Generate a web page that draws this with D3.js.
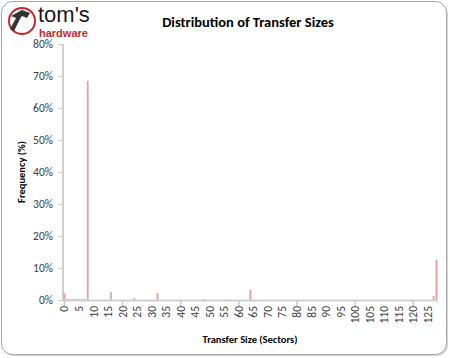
<!DOCTYPE html>
<html lang="en">
<head>
<meta charset="UTF-8">
<title>Distribution of Transfer Sizes</title>
<script src="https://d3js.org/d3.v7.min.js"></script>
<style>
    body { margin: 0; background: #fff; }
    text { font-family: Calibri, Carlito, "Open Sans", "Liberation Sans", sans-serif; }
</style>
</head>
<body>
<script>

// data (transfer size in sectors -> frequency %)
const sizes = d3.range(0, 129);
const sizeValues = [0, 1, 2, 3, 4, 5, 6, 7, 8, 16, 24, 32, 48, 56, 64, 127, 128];
const freqValues = [2.1, 0.3, 0.3, 0.3, 0.3, 0.3, 0.3, 0.3, 68.2, 2.4, 0.5, 2.0, 0.2, 0.2, 3.1, 1.2, 12.5];
const yTicks = [0, 10, 20, 30, 40, 50, 60, 70, 80];
const xLabels = d3.range(0, 126, 5);
const xMajorTicks = [0, 20, 40, 60, 80, 100, 120];

const bars = sizeValues.map((s, i) => ({ size: s, freq: freqValues[i] }));

const W = 450, H = 358;
const svg = d3.select('body').append('svg').attr('width', W).attr('height', H);

// frame with shadow
svg.append('rect')
    .attr('x', 3).attr('y', 3).attr('width', W - 5).attr('height', H - 5)
    .attr('rx', 11).style('fill', '#d6d6d6');
svg.append('rect')
    .attr('x', 1.5).attr('y', 1.5).attr('width', W - 5).attr('height', H - 5)
    .attr('rx', 11).style('fill', '#fff').style('stroke', '#a6a6a6').style('stroke-width', 1);

const x = d3.scaleBand().domain(sizes).range([63, 438]);
const y = d3.scaleLinear().domain([0, 80]).range([300, 44]);

// y axis
const yAxis = svg.append('g').attr('transform', 'translate(63,0)')
    .call(d3.axisLeft(y).tickValues(yTicks).tickFormat(d => d + '%').tickSize(4).tickPadding(6));
yAxis.select('.domain').style('stroke', '#d0d0d0').style('stroke-width', 2).attr('d', 'M0,' + y(80) + 'V' + y(0));
yAxis.selectAll('.tick line').style('stroke', '#c8c8c8');
yAxis.selectAll('.tick text').style('font-size', '11.5px').style('fill', '#404040');

// bars
svg.selectAll('rect.bar')
    .data(bars)
    .enter()
    .append('rect')
    .attr('class', 'bar')
    .attr('x', d => x(d.size) + x.bandwidth() / 2 - 0.7)
    .attr('width', 1.4)
    .attr('y', d => y(d.freq))
    .attr('height', d => y(0) - y(d.freq))
    .style('fill', '#e9a3a3')
    .style('stroke', '#dc9090')
    .style('stroke-width', 0.3);

// x axis line and major ticks
const xc = d => x(d) + x.bandwidth() / 2;
svg.append('line')
    .attr('x1', 63).attr('x2', 438).attr('y1', y(0) + 0.5).attr('y2', y(0) + 0.5)
    .style('stroke', '#d0d0d0').style('stroke-width', 2);
svg.selectAll('line.xtick')
    .data(xMajorTicks)
    .enter()
    .append('line')
    .attr('class', 'xtick')
    .attr('x1', xc).attr('x2', xc)
    .attr('y1', y(0) + 1).attr('y2', y(0) + 6)
    .style('stroke', '#c8c8c8').style('stroke-width', 1.5);

// rotated x labels
svg.selectAll('text.xlab')
    .data(xLabels)
    .enter()
    .append('text')
    .attr('class', 'xlab')
    .attr('transform', d => `translate(${xc(d) + 4},${y(0) + 6}) rotate(-90)`)
    .attr('text-anchor', 'end')
    .style('font-size', '11.5px')
    .style('fill', '#404040')
    .text(d => d);

// titles
svg.append('text')
    .attr('x', 248).attr('y', 27)
    .attr('text-anchor', 'middle')
    .style('font-size', '14.5px').style('font-weight', 'bold').style('fill', '#000')
    .text('Distribution of Transfer Sizes');

svg.append('text')
    .attr('x', 250).attr('y', 343)
    .attr('text-anchor', 'middle')
    .style('font-size', '10.5px').style('font-weight', 'bold').style('fill', '#000')
    .text('Transfer Size (Sectors)');

svg.append('text')
    .attr('transform', 'translate(25,172) rotate(-90)')
    .attr('text-anchor', 'middle')
    .style('font-size', '10.5px').style('font-weight', 'bold').style('fill', '#000')
    .text('Frequency (%)');

// logo
const logo = svg.append('g');
logo.append('circle').attr('cx', 22).attr('cy', 21).attr('r', 13)
    .style('fill', '#fff').style('stroke', '#c8282c').style('stroke-width', 2);
logo.append('path')
    .attr('d', 'M11,16 L22,10 L30,13 L27,18 L22,16 L20,19 L14,31 L10,29 L16,18 Z')
    .style('fill', '#333');
logo.append('text')
    .attr('x', 38).attr('y', 21.5)
    .style('font-family', '"Liberation Sans", sans-serif')
    .style('font-size', '22px').style('fill', '#1a1a1a')
    .text("tom's");
logo.append('text')
    .attr('x', 39).attr('y', 36.5)
    .style('font-family', '"Liberation Sans", sans-serif')
    .style('font-size', '11px').style('font-weight', 'bold').style('fill', '#c8282c')
    .text('hardware');

</script>
</body>
</html>
